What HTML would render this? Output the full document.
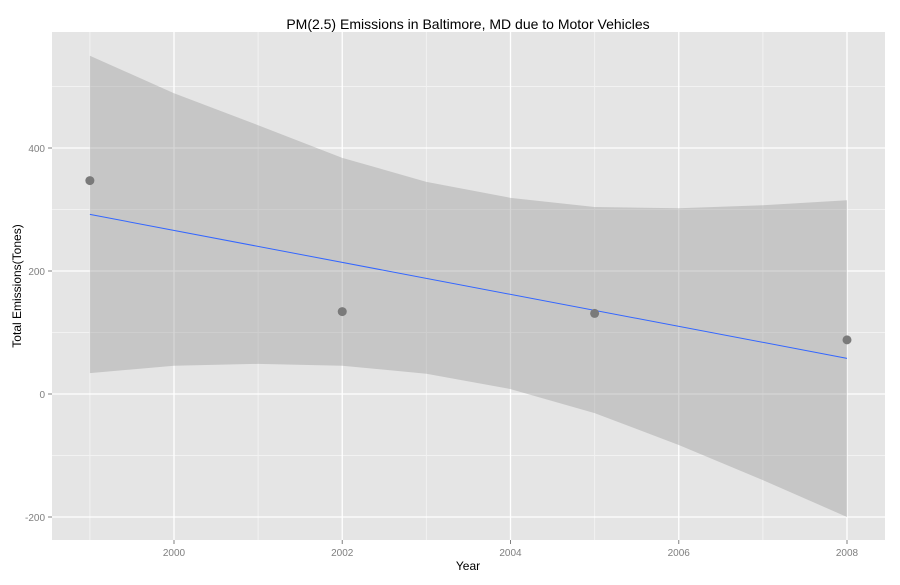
<!DOCTYPE html>
<html><head><meta charset="utf-8"><style>
body{margin:0;background:#fff;font-family:"Liberation Sans",sans-serif}
</style></head><body>
<svg id="c" width="900" height="580" xmlns="http://www.w3.org/2000/svg">
<text x="468" y="29" text-anchor="middle" font-size="14" fill="#000">PM(2.5) Emissions in Baltimore, MD  due to Motor Vehicles</text>
<rect x="52" y="32" width="833" height="508" fill="#e5e5e5"/>
<g id="grid"></g><g id="marks"></g><g id="axes"></g>
<text x="468" y="570" text-anchor="middle" font-size="12">Year</text>
<text transform="translate(21,286) rotate(-90)" text-anchor="middle" font-size="12">Total Emissions(Tones)</text>
</svg>
<script>
const years=[1999,2002,2005,2008];
const emissions=[347,134,131,88];
const bandYears=[1999,2000,2001,2002,2003,2004,2005,2006,2007,2008];
const bandUpper=[550,489,437,384,345,319,304,302,307,315];
const bandLower=[34,46,49,46,33,8,-31,-83,-140,-200];
const xTicks=[2000,2002,2004,2006,2008];
const xMinor=[1999,2001,2003,2005,2007];
const yTicks=[-200,0,200,400];
const yMinor=[-100,100,300,500];
const X=v=>174+(v-2000)*84.125, Y=v=>394-v*0.615;
const ns="http://www.w3.org/2000/svg";
function mk(p,t,a){const e=document.createElementNS(ns,t);for(const k in a)e.setAttribute(k,a[k]);document.getElementById(p).appendChild(e);return e;}
yMinor.forEach(v=>{const e=mk('grid','line',{x1:52,x2:885,y1:Y(v),y2:Y(v),stroke:'#f2f2f2','stroke-width':1});

});
xMinor.forEach(v=>{const e=mk('grid','line',{x1:X(v),x2:X(v),y1:32,y2:540,stroke:'#f2f2f2','stroke-width':1});

});
yTicks.forEach(v=>{const e=mk('grid','line',{x1:52,x2:885,y1:Y(v),y2:Y(v),stroke:'#fff','stroke-width':1.3});


const t=mk('axes','line',{x1:48,x2:52,y1:Y(v),y2:Y(v),stroke:'#7f7f7f'});


const l=mk('axes','text',{x:45,y:Y(v)+4,'text-anchor':'end','font-size':10,fill:'#7f7f7f'});l.textContent=v;

});
xTicks.forEach(v=>{const e=mk('grid','line',{x1:X(v),x2:X(v),y1:32,y2:540,stroke:'#fff','stroke-width':1.3});


const t=mk('axes','line',{x1:X(v),x2:X(v),y1:540,y2:544,stroke:'#7f7f7f'});


const l=mk('axes','text',{x:X(v),y:556,'text-anchor':'middle','font-size':10,fill:'#7f7f7f'});l.textContent=v;

});
let d='';bandYears.forEach((y,i)=>{d+=(i?'L':'M')+X(y)+','+Y(bandUpper[i]);});
for(let i=bandYears.length-1;i>=0;i--)d+='L'+X(bandYears[i])+','+Y(bandLower[i]);
const band=mk('marks','path',{d:d+'Z',fill:'#999','fill-opacity':0.4});


const n=years.length,mx=years.reduce((a,b)=>a+b)/n,my=emissions.reduce((a,b)=>a+b)/n;
let sxy=0,sxx=0;years.forEach((x,i)=>{sxy+=(x-mx)*(emissions[i]-my);sxx+=(x-mx)**2;});
const sl=sxy/sxx,f=x=>my+sl*(x-mx),x0=years[0],x1=years[n-1];
const ln=mk('marks','line',{x1:X(x0),y1:Y(f(x0)),x2:X(x1),y2:Y(f(x1)),stroke:'#3366ff','stroke-width':1});


years.forEach((y,i)=>{const c=mk('marks','circle',{cx:X(y),cy:Y(emissions[i]),r:4.5,fill:'#7a7a7a'});

});
</script>
</body></html>
